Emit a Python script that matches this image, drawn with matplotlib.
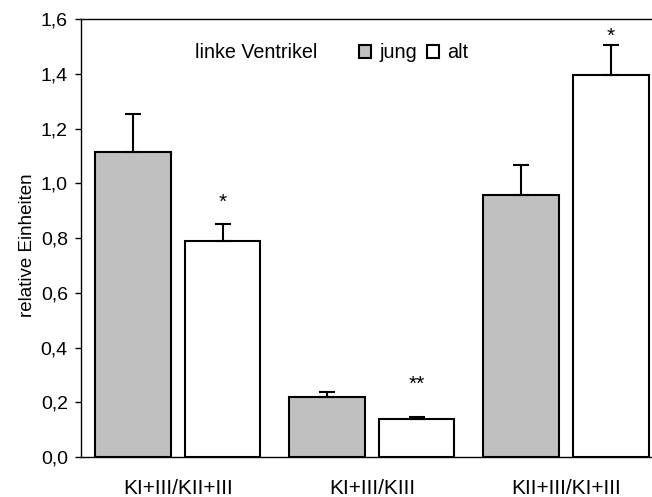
import matplotlib
matplotlib.use("Agg")
import matplotlib.pyplot as plt
import numpy as np

# ---- data ----
categories = ["KI+III/KII+III", "KI+III/KIII", "KII+III/KI+III"]
series_names = ["jung", "alt"]
jung = [1.116, 0.219, 0.959]
jung_err = [0.139, 0.018, 0.107]
alt = [0.791, 0.138, 1.395]
alt_err = [0.061, 0.010, 0.111]
alt_marks = ["*", "**", "*"]
alt_mark_levels = [0.956, 0.289, 1.563]
yticks = [0.0, 0.2, 0.4, 0.6, 0.8, 1.0, 1.2, 1.4, 1.6]
ytick_labels = ["0,0", "0,2", "0,4", "0,6", "0,8", "1,0", "1,2", "1,4", "1,6"]
legend_title = "linke Ventrikel"
ylabel = "relative Einheiten"

plt.rcParams["font.family"] = ["Liberation Sans", "DejaVu Sans"]
FS = 14

W, H = 652, 497
fig = plt.figure(figsize=(W / 100, H / 100), dpi=100)
left_px, right_px, top_px, bot_px = 80.7, 663.0, 19.3, 457.0
ax = fig.add_axes([left_px / W, 1 - bot_px / H, (right_px - left_px) / W, (bot_px - top_px) / H])

x = np.arange(len(categories))
bw = 0.389
off = 0.231
lw = 1.5
b1 = ax.bar(x - off, jung, bw, color="#C0C0C0", edgecolor="black", linewidth=lw, label=series_names[0], zorder=2)
b2 = ax.bar(x + off, alt, bw, color="white", edgecolor="black", linewidth=lw, label=series_names[1], zorder=2)

ekw = dict(fmt="none", ecolor="black", elinewidth=1.5, capsize=5.8, capthick=1.5, zorder=3)
ax.errorbar(x - off, jung, yerr=[np.zeros(len(jung)), jung_err], **ekw)
ax.errorbar(x + off, alt, yerr=[np.zeros(len(alt)), alt_err], **ekw)

for xi, m, lvl in zip(x + off, alt_marks, alt_mark_levels):
    ax.text(xi, lvl - 0.045, m, ha="center", va="baseline", fontsize=FS + 1)

ax.set_xlim(-0.5, 2.5)
ax.set_ylim(0, 1.6)
ax.set_yticks(yticks)
ax.set_yticklabels(ytick_labels)
ax.set_xticks(x)
ax.set_xticklabels(categories)
ax.tick_params(axis="y", direction="out", length=4.3, width=1, labelsize=FS, pad=5)
ax.tick_params(axis="x", length=0, labelsize=FS + 1, pad=16)
for s in ["left", "bottom", "top"]:
    ax.spines[s].set_linewidth(1)
ax.spines["right"].set_visible(False)

fig.text(27.5 / W, 1 - 245 / H, ylabel, rotation=90, ha="center", va="center", fontsize=FS - 0.5)

fig.text(195 / W, 1 - 53 / H, legend_title, ha="left", va="center", fontsize=FS + 0.2)
ax.legend(handles=[b1, b2], labels=series_names, loc="center left",
          bbox_to_anchor=(359 / W, 1 - 53 / H), bbox_transform=fig.transFigure,
          ncol=2, frameon=False, fontsize=FS + 0.3, borderpad=0, borderaxespad=0,
          handlelength=0.62, handleheight=0.62, handletextpad=0.4, columnspacing=0.5)

fig.savefig("out.png", dpi=100)
